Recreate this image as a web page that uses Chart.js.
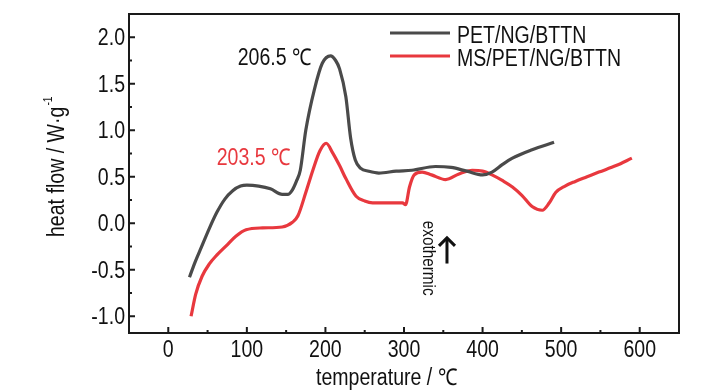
<!DOCTYPE html>
<html>
<head>
<meta charset="utf-8">
<script src="https://cdn.jsdelivr.net/npm/chart.js@4"></script>
<style>
  body { margin: 0; background: #fff; }
  canvas { display: block; }
</style>
</head>
<body>
<canvas id="dsc" width="728" height="390"></canvas>
<script>
'use strict';
// PET/NG/BTTN curve
var petTemp = [27, 34, 42, 52, 62, 72, 82, 92, 100, 115, 130, 145, 152, 158, 163, 168, 175, 186, 196, 206.5, 213, 218, 226, 232, 238, 245, 255, 268, 290, 310, 340, 360, 380, 400, 412, 425, 438, 463, 491];
var petFlow = [-0.58, -0.42, -0.26, -0.06, 0.12, 0.26, 0.35, 0.40, 0.41, 0.40, 0.37, 0.31, 0.31, 0.36, 0.45, 0.57, 1.0, 1.44, 1.72, 1.80, 1.75, 1.66, 1.36, 0.92, 0.68, 0.59, 0.56, 0.54, 0.56, 0.57, 0.61, 0.60, 0.56, 0.52, 0.55, 0.63, 0.70, 0.79, 0.87];
// MS/PET/NG/BTTN curve
var msTemp = [29, 35, 43, 52, 62, 74, 86, 99, 120, 145, 158, 165, 175, 184, 193, 201, 209, 218, 226, 239, 250, 260, 285, 298, 302, 307, 313, 323, 335, 353, 370, 387, 400, 412, 425, 438, 450, 463, 476, 485, 493, 505, 518, 533, 548, 570, 590];
var msFlow = [-1.0, -0.76, -0.57, -0.44, -0.34, -0.24, -0.14, -0.07, -0.05, -0.04, 0.01, 0.08, 0.33, 0.57, 0.78, 0.86, 0.76, 0.62, 0.48, 0.29, 0.24, 0.22, 0.22, 0.22, 0.20, 0.39, 0.52, 0.55, 0.52, 0.47, 0.53, 0.57, 0.56, 0.52, 0.46, 0.39, 0.30, 0.18, 0.14, 0.22, 0.33, 0.40, 0.45, 0.50, 0.55, 0.62, 0.70];

var seriesNames = ['PET/NG/BTTN', 'MS/PET/NG/BTTN'];
var xTicks = [0, 100, 200, 300, 400, 500, 600];
var xMinorTicks = [50, 150, 250, 350, 450, 550];
var yTicks = [-1.0, -0.5, 0.0, 0.5, 1.0, 1.5, 2.0];
var yMinorTicks = [-0.75, -0.25, 0.25, 0.75, 1.25, 1.75];
var peakLabels = ['206.5 ℃', '203.5 ℃'];

var blackLine = '#4a4a4a';
var redLine = '#e8383e';
var FONT = "'Liberation Sans', Arial, sans-serif";
var NARROW = 0.85; // the original lettering is condensed

function pairs(xs, ys) {
	var out = [];
	for (var i = 0; i < xs.length; i++) {
		out.push({x: xs[i], y: ys[i]});
	}
	return out;
}

// text squeezed horizontally around its anchor
function narrowText(c, text, x, y, align) {
	c.save();
	c.translate(x, y);
	c.scale(NARROW, 1);
	c.textAlign = align || 'left';
	c.fillText(text, 0, 0);
	c.restore();
}

// frame, inward ticks, tick labels, legend, labels and axis titles
var decorations = {
	id: 'decorations',
	afterDraw: function(chart) {
		var c = chart.ctx;
		var a = chart.chartArea;
		var sx = chart.scales.x;
		var sy = chart.scales.y;
		c.save();
		c.strokeStyle = '#1a1a1a';
		c.lineWidth = 2;
		c.strokeRect(a.left, a.top, a.right - a.left, a.bottom - a.top);

		c.beginPath();
		xTicks.forEach(function(v) {
			var p = sx.getPixelForValue(v);
			c.moveTo(p, a.bottom); c.lineTo(p, a.bottom - 6);
		});
		xMinorTicks.forEach(function(v) {
			var p = sx.getPixelForValue(v);
			c.moveTo(p, a.bottom); c.lineTo(p, a.bottom - 3);
		});
		yTicks.forEach(function(v) {
			var p = sy.getPixelForValue(v);
			c.moveTo(a.left, p); c.lineTo(a.left + 6, p);
		});
		yMinorTicks.forEach(function(v) {
			var p = sy.getPixelForValue(v);
			c.moveTo(a.left, p); c.lineTo(a.left + 3, p);
		});
		c.stroke();

		// tick labels
		c.fillStyle = '#111';
		c.font = '23px ' + FONT;
		c.textBaseline = 'alphabetic';
		xTicks.forEach(function(v) {
			narrowText(c, String(v), sx.getPixelForValue(v), a.bottom + 24, 'center');
		});
		yTicks.forEach(function(v) {
			narrowText(c, v.toFixed(1), a.left - 4, sy.getPixelForValue(v) + 8, 'right');
		});

		// legend
		var colors = [blackLine, redLine];
		for (var i = 0; i < 2; i++) {
			var ly = a.top + 19 + i * 23;
			c.strokeStyle = colors[i];
			c.lineWidth = 3;
			c.beginPath();
			c.moveTo(a.right - 289, ly); c.lineTo(a.right - 229, ly);
			c.stroke();
			c.fillStyle = '#111';
			narrowText(c, seriesNames[i], a.right - 222, ly + 10);
		}

		// peak labels
		c.fillStyle = '#111';
		narrowText(c, peakLabels[0], sx.getPixelForValue(88.3), sy.getPixelForValue(1.70));
		c.fillStyle = redLine;
		narrowText(c, peakLabels[1], sx.getPixelForValue(61.6), sy.getPixelForValue(0.624));

		// exothermic marker
		c.save();
		c.translate(sx.getPixelForValue(330.4), sy.getPixelForValue(-0.376));
		c.rotate(Math.PI / 2);
		c.font = '18px ' + FONT;
		c.fillStyle = '#111';
		c.textBaseline = 'middle';
		narrowText(c, 'exothermic', 0, 0, 'center');
		c.restore();
		var ax = sx.getPixelForValue(354.7);
		var tip = sy.getPixelForValue(-0.147);
		var tail = sy.getPixelForValue(-0.433);
		c.strokeStyle = '#111';
		c.lineWidth = 3;
		c.beginPath();
		c.moveTo(ax, tail); c.lineTo(ax, tip + 3);
		c.stroke();
		c.beginPath();
		c.moveTo(ax - 8, tip + 9); c.lineTo(ax, tip + 1); c.lineTo(ax + 8, tip + 9);
		c.stroke();

		// axis titles
		c.fillStyle = '#111';
		c.font = '23px ' + FONT;
		c.textBaseline = 'alphabetic';
		narrowText(c, 'temperature / ℃', 316, 385);

		c.save();
		c.translate(64, 237);
		c.rotate(-Math.PI / 2);
		var main = 'heat flow / W·g';
		narrowText(c, main, 0, 0);
		var w = c.measureText(main).width * NARROW;
		c.font = '12px ' + FONT;
		narrowText(c, '-1', w + 1, -12);
		c.restore();
		c.restore();
	}
};

document.addEventListener('DOMContentLoaded', function() {
	var ctx = document.getElementById('dsc').getContext('2d');
	var chart = new Chart(ctx, {
		type: 'line',
		data: {
			datasets: [{
				label: seriesNames[0],
				data: pairs(petTemp, petFlow),
				borderColor: blackLine,
				borderWidth: 3.2,
				pointRadius: 0,
				cubicInterpolationMode: 'monotone',
				fill: false
			}, {
				label: seriesNames[1],
				data: pairs(msTemp, msFlow),
				borderColor: redLine,
				borderWidth: 3.2,
				pointRadius: 0,
				cubicInterpolationMode: 'monotone',
				fill: false
			}]
		},
		options: {
			responsive: false,
			animation: false,
			layout: {padding: {top: 14, right: 49, left: 0, bottom: 0}},
			plugins: {legend: {display: false}, tooltip: {enabled: false}},
			scales: {
				x: {
					type: 'linear',
					min: -50,
					max: 650,
					afterBuildTicks: function(s) { s.ticks = xTicks.map(function(v) { return {value: v}; }); },
					afterFit: function(s) { s.height = 57; },
					grid: {display: false},
					border: {display: false},
					ticks: {display: false}
				},
				y: {
					type: 'linear',
					min: -1.18,
					max: 2.25,
					afterBuildTicks: function(s) { s.ticks = yTicks.map(function(v) { return {value: v}; }); },
					afterFit: function(s) { s.width = 129; },
					grid: {display: false},
					border: {display: false},
					ticks: {display: false}
				}
			}
		},
		plugins: [decorations]
	});
});
</script>
</body>
</html>
